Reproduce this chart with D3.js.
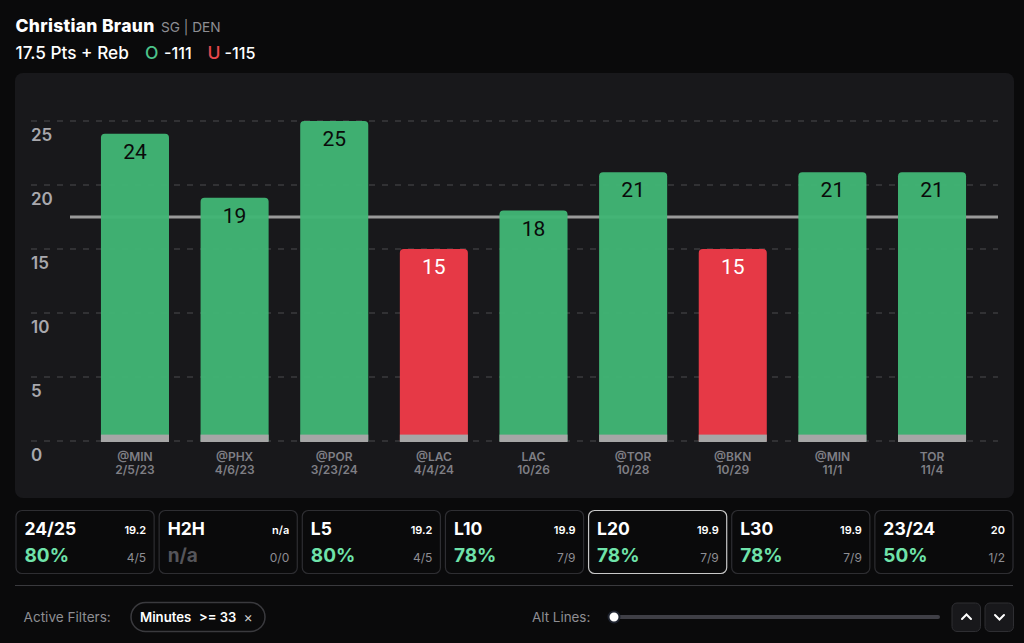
<!DOCTYPE html>
<html lang="en">
<head>
<meta charset="UTF-8">
<title>Christian Braun Pts + Reb</title>
<script src="https://d3js.org/d3.v7.min.js"></script>
<style>
  html, body { margin: 0; padding: 0; background: #0a0a0b; overflow: hidden; }
  svg { display: block; }
  text { font-family: Inter, "Noto Sans", sans-serif; }
</style>
</head>
<body>
<div id="chart"></div>
<script>
"use strict";

const opponents = ["@MIN", "@PHX", "@POR", "@LAC", "LAC", "@TOR", "@BKN", "@MIN", "TOR"];
const dates = ["2/5/23", "4/6/23", "3/23/24", "4/4/24", "10/26", "10/28", "10/29", "11/1", "11/4"];
const values = [24, 19, 25, 15, 18, 21, 15, 21, 21];
const yTicks = [0, 5, 10, 15, 20, 25];
const propLine = 17.5;
const baseStub = 0.5;

const cardNames = ["24/25", "H2H", "L5", "L10", "L20", "L30", "23/24"];
const cardAverages = ["19.2", "n/a", "19.2", "19.9", "19.9", "19.9", "20"];
const cardPercents = ["80%", "n/a", "80%", "78%", "78%", "78%", "50%"];
const cardRecords = ["4/5", "0/0", "4/5", "7/9", "7/9", "7/9", "1/2"];
const selectedCard = "L20";

const width = 1024, height = 643;
const svg = d3.select("#chart").append("svg").attr("width", width).attr("height", height);

// header
svg.append("text").attr("x", 15.5).attr("y", 32).attr("font-size", 17.5).attr("font-weight", 800)
  .attr("letter-spacing", 0.3).attr("fill", "#fff").text("Christian Braun");
svg.append("text").attr("x", 161).attr("y", 32).attr("font-size", 13.7).attr("fill", "#8e8e93").text("SG | DEN");

function headerText(x, str, color, size) {
  svg.append("text").attr("x", x).attr("y", 59).attr("font-size", size).attr("font-weight", 500)
    .attr("fill", color).text(str);
}
headerText(15.5, "17.5 Pts + Reb", "#fff", 17.2);
headerText(145, "O", "#4cc38a", 17.5);
headerText(164, "-111", "#fff", 16.2);
headerText(207.5, "U", "#e5484d", 17.5);
headerText(224.5, "-115", "#fff", 16.2);

// chart panel
svg.append("rect").attr("x", 15).attr("y", 73).attr("width", 999).attr("height", 425)
  .attr("rx", 8).attr("fill", "#18181b");

const x = d3.scaleBand().domain(d3.range(values.length)).range([85.2, 981.8])
  .paddingInner(0.317).paddingOuter(0.158);
const y = d3.scaleLinear().domain([0, 25]).range([441, 121]);

svg.append("g").selectAll("line").data(yTicks).join("line")
  .attr("x1", 31).attr("x2", 998)
  .attr("y1", d => y(d)).attr("y2", d => y(d))
  .attr("stroke", "#3a3a3e").attr("stroke-width", 1.5).attr("stroke-dasharray", "6 7");

svg.append("g").selectAll("text").data(yTicks).join("text")
  .attr("x", 31).attr("y", d => y(d) + 19.5)
  .attr("font-size", 17).attr("font-weight", 600).attr("fill", "#a8a8ad")
  .text(d => d);

svg.append("line").attr("x1", 70).attr("x2", 998)
  .attr("y1", y(propLine)).attr("y2", y(propLine))
  .attr("stroke", "#9a9a9a").attr("stroke-width", 3);

const bars = svg.append("g").selectAll("g").data(values).join("g");

// rounded top corners only
bars.append("path")
  .attr("d", (d, i) => {
    const l = x(i), r = x(i) + x.bandwidth(), t = y(d), b = y(0), c = 4;
    return `M${l},${b}V${t + c}Q${l},${t} ${l + c},${t}H${r - c}Q${r},${t} ${r},${t + c}V${b}Z`;
  })
  .attr("fill", d => d > propLine ? "#41b575" : "#e63946")
  .attr("fill-opacity", d => d > propLine ? 0.97 : 1);

bars.append("rect")
  .attr("x", (d, i) => x(i)).attr("width", x.bandwidth())
  .attr("y", y(baseStub)).attr("height", y(0) - y(baseStub) + 1)
  .attr("fill", "#a6a6a6");

bars.append("text")
  .attr("x", (d, i) => x(i) + x.bandwidth() / 2).attr("y", d => y(d) + 25)
  .attr("text-anchor", "middle").attr("font-size", 21)
  .attr("fill", d => d > propLine ? "#0a0a0a" : "#fff")
  .style("font-family", "Roboto, sans-serif")
  .text(d => d);

const tickLabels = svg.append("g").selectAll("text").data(opponents).join("text")
  .attr("text-anchor", "middle").attr("font-size", 12).attr("font-weight", 600).attr("fill", "#7f7f85")
  .attr("x", (d, i) => x(i) + x.bandwidth() / 2);
tickLabels.append("tspan").attr("y", 461).text(d => d);
tickLabels.append("tspan").attr("y", 474)
  .attr("x", (d, i) => x(i) + x.bandwidth() / 2).text((d, i) => dates[i]);

// summary cards
const cardX = d3.scaleBand().domain(cardNames).range([16, 1013]).paddingInner(0.035);
const cards = svg.append("g").selectAll("g").data(cardNames).join("g")
  .attr("transform", d => `translate(${cardX(d)},510.5)`);
cards.append("rect").attr("width", cardX.bandwidth()).attr("height", 63).attr("rx", 6)
  .attr("fill", "#0a0a0b")
  .attr("stroke", d => d === selectedCard ? "#c8c8c8" : "#2e2e32").attr("stroke-width", 1.2);
cards.append("text").attr("x", 8.5).attr("y", 24).attr("font-size", 17.5).attr("font-weight", 700)
  .attr("fill", "#fff").text(d => d);
cards.append("text").attr("x", cardX.bandwidth() - 8).attr("y", 23).attr("text-anchor", "end")
  .attr("font-size", 11).attr("font-weight", 600).attr("fill", "#fff").text((d, i) => cardAverages[i]);
cards.append("text").attr("x", 8.5).attr("y", 51).attr("font-size", 19).attr("font-weight", 700)
  .attr("fill", (d, i) => cardPercents[i] === "n/a" ? "#55555a" : "#6fe3aa").text((d, i) => cardPercents[i]);
cards.append("text").attr("x", cardX.bandwidth() - 8).attr("y", 51).attr("text-anchor", "end")
  .attr("font-size", 12).attr("fill", "#8e8e93").text((d, i) => cardRecords[i]);

// footer
svg.append("line").attr("x1", 15).attr("x2", 1013).attr("y1", 585.5).attr("y2", 585.5)
  .attr("stroke", "#3a3a3e");
svg.append("text").attr("x", 23.5).attr("y", 622).attr("font-size", 13.6).attr("fill", "#8e8e93").text("Active Filters:");
svg.append("rect").attr("x", 131).attr("y", 602.5).attr("width", 134).attr("height", 29).attr("rx", 14.5)
  .attr("fill", "none").attr("stroke", "#3a3a3e").attr("stroke-width", 1.5);
svg.append("text").attr("x", 140).attr("y", 622).attr("font-size", 13.2).attr("font-weight", 600).attr("fill", "#fff")
  .text("Minutes");
svg.append("text").attr("x", 199).attr("y", 622).attr("font-size", 13).attr("font-weight", 600).attr("fill", "#fff")
  .text(">= 33");
svg.append("text").attr("x", 243.5).attr("y", 621.5).attr("font-size", 14).attr("fill", "#d0d0d0").text("×");

svg.append("text").attr("x", 532).attr("y", 622).attr("font-size", 13.4).attr("fill", "#8e8e93").text("Alt Lines:");
svg.append("line").attr("x1", 616).attr("x2", 938).attr("y1", 617).attr("y2", 617)
  .attr("stroke", "#3f3f46").attr("stroke-width", 4).attr("stroke-linecap", "round");
svg.append("circle").attr("cx", 614).attr("cy", 617).attr("r", 5.5)
  .attr("fill", "#fff").attr("stroke", "#1f2430").attr("stroke-width", 2);

const buttons = [{ left: 952, up: true }, { left: 985, up: false }];
buttons.forEach(b => {
  svg.append("rect").attr("x", b.left).attr("y", 603).attr("width", 28.5).attr("height", 28.5).attr("rx", 5)
    .attr("fill", "#18181b").attr("stroke", "#2e2e32");
  const cx = b.left + 14.5, s = b.up ? -1 : 1;
  svg.append("path").attr("d", `M${cx - 4.5},${617 - s * 2}L${cx},${617 + s * 2.5}L${cx + 4.5},${617 - s * 2}`)
    .attr("fill", "none").attr("stroke", "#fff").attr("stroke-width", 2).attr("stroke-linecap", "round");
});
</script>
</body>
</html>
